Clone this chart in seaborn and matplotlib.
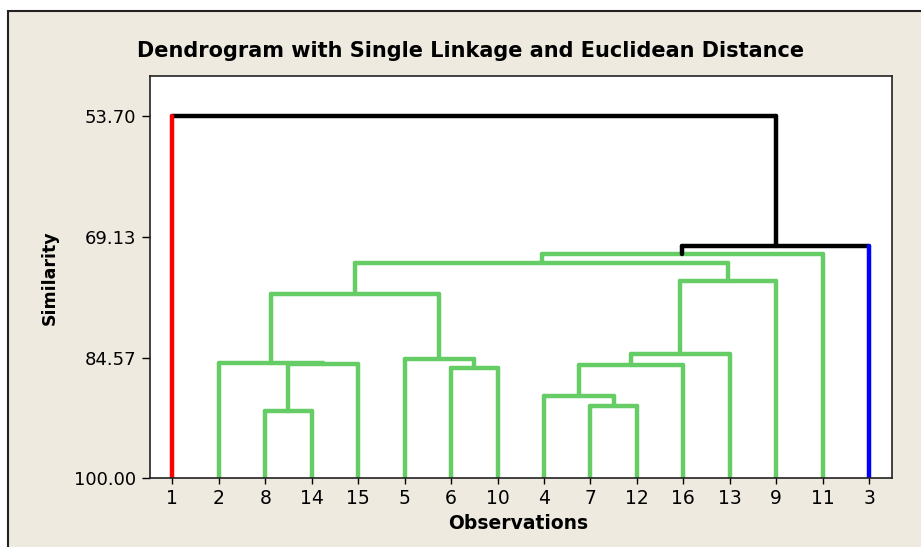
import numpy as np
import pandas as pd
import matplotlib
matplotlib.use('Agg')
import matplotlib.pyplot as plt
import seaborn as sns
from matplotlib.patches import Rectangle

# ---------------- data ----------------
leaf_order = ['1', '2', '8', '14', '15', '5', '6', '10', '4', '7', '12', '16', '13', '9', '11', '3']
leaf_cluster = [0, 1, 1, 1, 1, 1, 1, 1, 1, 1, 1, 1, 1, 1, 1, 2]
cluster_colors = ['#FF0000', '#66CC66', '#0000FF']
link_color = '#000000'

merge_left = ['8', '7', '4', '6', 'm2', 'm0', '2', '5', 'm4', 'm6', 'm8', 'm9', 'm11', 'm12', '1']
merge_right = ['14', '12', 'm1', '10', '16', '15', 'm5', 'm3', '13', 'm7', '9', 'm10', '11', '3', 'm13']
merge_sim = [91.41, 90.77, 89.50, 85.88, 85.54, 85.46, 85.22, 84.73, 84.14,
             76.40, 74.83, 72.49, 71.34, 70.28, 53.70]

y_ticks = [53.70, 69.13, 84.57, 100.00]

title = 'Dendrogram with Single Linkage and Euclidean Distance'
xlabel = 'Observations'
ylabel = 'Similarity'

# ---------------- build dendrogram segments ----------------
pos, hgt, clus, col = {}, {}, {}, {}
for i, (lab, c) in enumerate(zip(leaf_order, leaf_cluster)):
    pos[lab] = i
    hgt[lab] = 100.0
    clus[lab] = {c}
    col[lab] = cluster_colors[c]

rows = []
seg = 0
def add(x0, y0, x1, y1, c):
    global seg
    rows.append(dict(seg=seg, order=0, x=x0, y=y0, color=c))
    rows.append(dict(seg=seg, order=1, x=x1, y=y1, color=c))
    seg += 1

for k, (a, b, s) in enumerate(zip(merge_left, merge_right, merge_sim)):
    node = f'm{k}'
    pos[node] = (pos[a] + pos[b]) / 2
    hgt[node] = s
    clus[node] = clus[a] | clus[b]
    ncol = cluster_colors[list(clus[node])[0]] if len(clus[node]) == 1 else link_color
    col[node] = ncol
    ca = col[a] if not a.startswith('m') else ncol
    cb = col[b] if not b.startswith('m') else ncol
    add(pos[a], hgt[a], pos[a], s, ca)
    add(pos[a], s, pos[b], s, ncol)
    add(pos[b], hgt[b], pos[b], s, cb)

df = pd.DataFrame(rows)

# ---------------- figure ----------------
sns.set_theme(style='white')
plt.rcParams['font.family'] = ['DejaVu Sans']

W, H = 921, 547
fig = plt.figure(figsize=(W / 100, H / 100), dpi=100, facecolor='white')
bg = '#EEEAE0'
fig.add_artist(Rectangle((8 / W, -0.1), 1.2, (H - 11) / H + 0.1, transform=fig.transFigure,
                         facecolor=bg, edgecolor='#222222', lw=1.5, zorder=-10))

ax = fig.add_axes([150 / W, 1 - 478.3 / H, (891.5 - 150) / W, (478.3 - 76) / H])
ax.set_facecolor('white')

palette = {c: c for c in df['color'].unique()}
hue_order = ['#66CC66', '#000000', '#FF0000', '#0000FF']
hue_order = [h for h in hue_order if h in palette]
sns.lineplot(data=df, x='x', y='y', units='seg', estimator=None, sort=False,
             hue='color', palette=palette, hue_order=hue_order, legend=False,
             lw=3.2, solid_capstyle='round', ax=ax)

ax.set_xlim(-0.48, 15.48)
ax.set_ylim(100.0, 48.6)
ax.set_xticks(range(len(leaf_order)))
ax.set_xticklabels(leaf_order)
ax.set_yticks(y_ticks)
ax.set_yticklabels([f'{v:.2f}' for v in y_ticks])
ax.tick_params(axis='both', which='both', direction='out', color='black',
               labelcolor='black', width=1)
ax.tick_params(axis='y', length=6, pad=4, left=True, labelsize=13)
ax.tick_params(axis='x', length=4.5, pad=3.5, bottom=True, labelsize=13.5)
for sp in ax.spines.values():
    sp.set_color('#222222')
    sp.set_linewidth(1.2)
ax.set_xlabel('')
ax.set_ylabel('')

fig.text(470.3 / W, 1 - 56.7 / H, title, ha='center', va='baseline',
         fontsize=15, fontweight='bold', color='black')
fig.text(518.3 / W, 1 - 529.3 / H, xlabel, ha='center', va='baseline',
         fontsize=13.5, fontweight='bold', color='black')
fig.text(50 / W, 1 - 278 / H, ylabel, ha='center', va='center', rotation=90,
         fontsize=12.5, fontweight='bold', color='black')

fig.savefig('out.png', dpi=100, facecolor='white')
